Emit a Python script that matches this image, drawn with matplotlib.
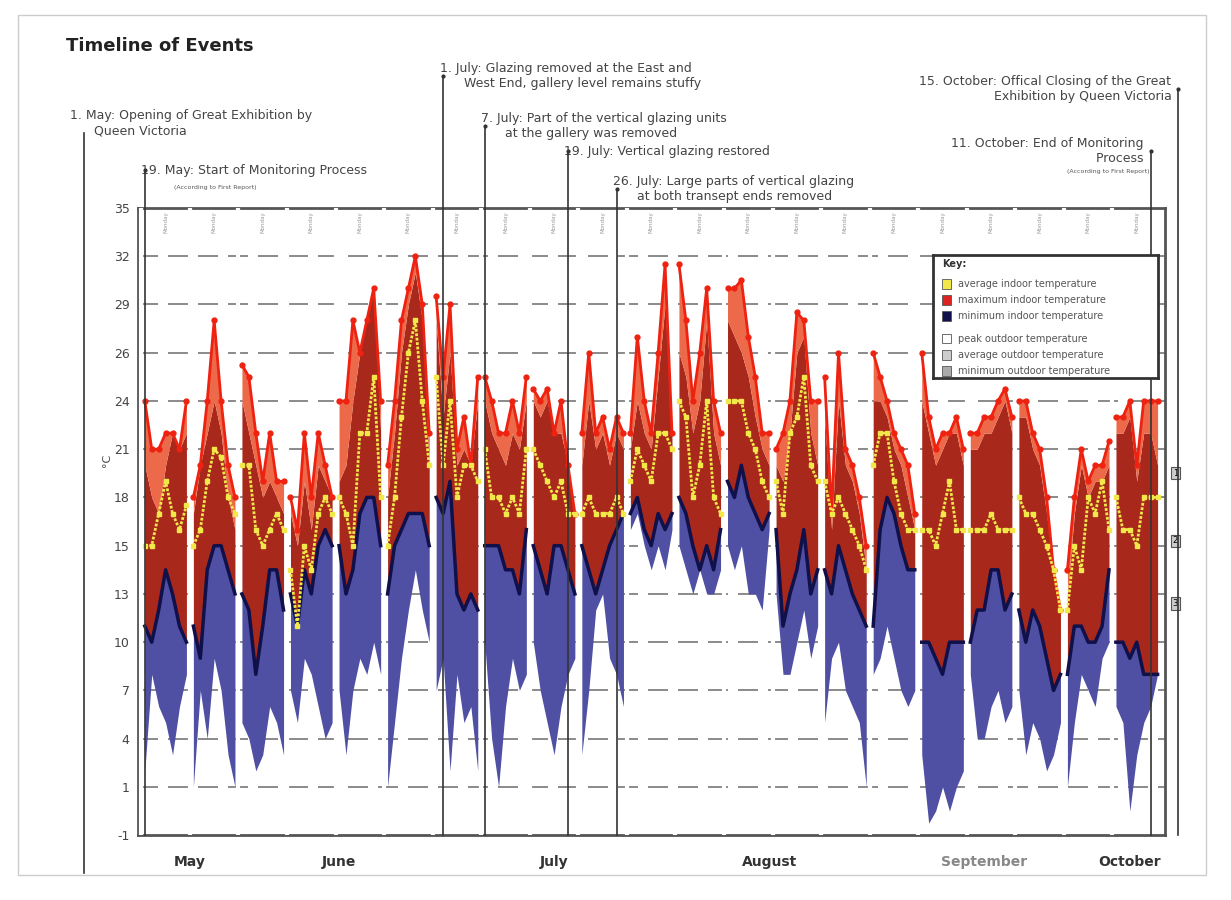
import numpy as np
import matplotlib.pyplot as plt
from matplotlib.patches import Rectangle

# tick labels on the (unevenly labelled) temperature axis
y_labels = [-1, 1, 4, 7, 10, 13, 15, 18, 21, 24, 26, 29, 32, 35]

# one row per week (19 May .. 11 Oct), 7 readings per week
max_in = [
    [24, 21, 21, 22, 22, 21, 24], [18, 20, 24, 28, 24, 20, 18], [25.5, 25, 22, 19, 22, 19, 19],
    [18, 16, 22, 18, 22, 20, 18], [24, 24, 28, 26, 28, 30, 24], [20, 24, 28, 30, 32, 29, 22],
    [29.5, 25, 29, 21, 23, 20, 25], [25, 24, 22, 22, 24, 22, 25], [24.5, 24, 24.5, 22, 24, 20, 17],
    [22, 26, 22, 23, 21, 23, 22], [22, 27, 24, 22, 26, 31.5, 22], [31.5, 28, 24, 26, 30, 24, 22],
    [30, 30, 30.5, 27, 25, 22, 22], [21, 22, 24, 28.5, 28, 24, 24], [25, 17, 26, 21, 20, 18, 15],
    [26, 25, 24, 22, 21, 20, 17], [26, 23, 21, 22, 22, 23, 21], [22, 22, 23, 23, 24, 24.5, 23],
    [24, 24, 22, 21, 18, 14, 12], [14, 18, 21, 19, 20, 20, 21.5], [23, 23, 24, 20, 24, 24, 24],
]
avg_in = [
    [15, 15, 17, 19, 17, 16, 17.5], [15, 16, 19, 21, 20.5, 18, 17], [20, 20, 16, 15, 16, 17, 16],
    [14, 11, 15, 14, 17, 18, 17], [18, 17, 15, 22, 22, 25, 18], [15, 18, 23, 26, 28, 24, 20],
    [25, 20, 24, 18, 20, 20, 19], [21, 18, 18, 17, 18, 17, 21], [21, 20, 19, 18, 19, 17, 17],
    [17, 18, 17, 17, 17, 18, 17], [19, 21, 20, 19, 22, 22, 21], [24, 23, 18, 20, 24, 18, 17],
    [24, 24, 24, 22, 21, 19, 18], [19, 17, 22, 23, 25, 20, 19], [19, 17, 18, 17, 16, 15, 14],
    [20, 22, 22, 19, 17, 16, 16], [16, 16, 15, 17, 19, 16, 16], [16, 16, 16, 17, 16, 16, 16],
    [18, 17, 17, 16, 15, 14, 12], [12, 15, 14, 18, 17, 19, 16], [18, 16, 16, 15, 18, 18, 18],
]
min_in = [
    [11, 10, 12, 14, 13, 11, 10], [11, 9, 14, 15, 15, 14, 13], [13, 12, 8, 11, 14, 14, 12],
    [13, 11, 14, 13, 15, 16, 15], [15, 13, 14, 17, 18, 18, 15], [13, 15, 16, 17, 17, 17, 15],
    [18, 17, 19, 13, 12, 13, 12], [15, 15, 15, 14, 14, 13, 16], [15, 14, 13, 15, 15, 14, 13],
    [15, 14, 13, 14, 15, 16, 17], [17, 18, 16, 15, 17, 16, 17], [18, 17, 15, 14, 15, 14, 16],
    [19, 18, 20, 18, 17, 16, 17], [16, 11, 13, 14, 16, 13, 14], [14, 13, 15, 14, 13, 12, 11],
    [11, 16, 18, 17, 15, 14, 14], [10, 10, 9, 8, 10, 10, 10], [10, 12, 12, 14, 14, 12, 13],
    [12, 10, 12, 11, 9, 7, 8], [8, 11, 11, 10, 10, 11, 14], [10, 10, 9, 10, 8, 8, 8],
]
peak_out = [
    [20, 18, 17, 20, 22, 21, 22], [17, 20, 22, 24, 22, 18, 16], [24, 22, 20, 18, 19, 18, 17],
    [17, 15, 19, 16, 20, 19, 18], [19, 20, 24, 26, 28, 30, 22], [18, 22, 26, 29, 31, 28, 20],
    [28, 23, 26, 20, 21, 20, 24], [24, 22, 21, 20, 22, 21, 24], [24, 23, 24, 22, 22, 20, 17],
    [20, 24, 21, 22, 20, 22, 21], [21, 24, 22, 21, 25, 29, 22], [26, 25, 22, 24, 28, 22, 20],
    [28, 27, 26, 25, 23, 21, 20], [20, 19, 22, 26, 27, 22, 20], [23, 16, 24, 20, 19, 17, 14],
    [24, 24, 23, 21, 20, 18, 16], [24, 22, 20, 21, 22, 22, 20], [21, 21, 22, 22, 23, 24, 22],
    [23, 23, 21, 20, 17, 14, 12], [13, 17, 20, 18, 19, 19, 20], [22, 22, 23, 19, 22, 22, 20],
]
min_out = [
    [2, 8, 6, 5, 3, 6, 8], [1, 7, 4, 9, 7, 3, 1], [5, 4, 2, 3, 6, 5, 3],
    [7, 5, 9, 8, 6, 4, 5], [7, 3, 7, 9, 8, 10, 8], [1, 5, 9, 12, 14, 12, 10],
    [7, 9, 2, 8, 5, 6, 2], [10, 4, 1, 6, 9, 7, 8], [10, 7, 5, 3, 6, 8, 9],
    [3, 7, 12, 13, 9, 8, 6], [16, 17, 15, 14, 15, 14, 16], [15, 14, 13, 14, 13, 13, 14],
    [15, 14, 15, 13, 13, 12, 16], [13, 8, 8, 10, 12, 9, 11], [5, 9, 10, 7, 6, 5, 1],
    [8, 9, 11, 9, 7, 6, 7], [3, -0.5, 0, 1, 0, 1, 2], [8, 4, 4, 6, 7, 5, 6],
    [7, 3, 5, 4, 2, 3, 5], [1, 5, 8, 7, 6, 9, 10], [6, 5, 0, 3, 5, 6, 8],
]

months = ["May", "June", "July", "August", "September", "October"]
month_days = [6.5, 28, 59, 90, 121, 142]

# events: (day offset from 19 May, text, text height in axes fraction)
events = [
    (0, "19. May: Start of Monitoring Process", 1.06),
    (43, "1. July: Glazing removed at the East and\n      West End, gallery level remains stuffy", 1.21),
    (49, "7. July: Part of the vertical glazing units\n      at the gallery was removed", 1.13),
    (61, "19. July: Vertical glazing restored", 1.09),
    (68, "26. July: Large parts of vertical glazing\n      at both transept ends removed", 1.03),
    (145, "11. October: End of Monitoring\n        Process", 1.09),
    (149, "15. October: Offical Closing of the Great\n        Exhibition by Queen Victoria", 1.19),
]


def ypos(v):
    return np.interp(v, y_labels, np.arange(len(y_labels)))


fig = plt.figure(figsize=(12.31, 9), dpi=100)
ax = fig.add_axes([0.112, 0.072, 0.834, 0.697])
fig.add_artist(Rectangle((0.015, 0.028), 0.965, 0.955, transform=fig.transFigure,
                         fill=False, ec="#cccccc", lw=1))

for i in range(len(max_in)):
    d = np.arange(7) + i * 7
    mx, av, mn = ypos(max_in[i]), ypos(avg_in[i]), ypos(min_in[i])
    pk, mo = ypos(peak_out[i]), ypos(min_out[i])
    ax.fill_between(d, mo, mn, color="#4f4fa3", lw=0, zorder=2)
    ax.fill_between(d, mn, np.maximum(pk, mn), color="#a8281c", lw=0, zorder=2)
    ax.fill_between(d, np.minimum(pk, mx), mx, color="#ec6a4a", lw=0, zorder=2)
    ax.fill_between(d, mx, np.maximum(pk, mx), color="#a8281c", lw=0, zorder=2)
    ax.plot(d, mx, color="#ee2211", lw=2, marker="o", ms=3.5, zorder=4)
    ax.plot(d, mn, color="#10104a", lw=2.5, zorder=4)
    ax.plot(d, av, color="#f2e84a", lw=2, ls=(0, (1, 0.6)), marker="s", ms=3.5, zorder=5)
    ax.axvline(i * 7 - 0.5, color="white", lw=3, zorder=3)
    ax.axvline(i * 7 - 0.5, color="#999999", lw=0.8, zorder=1)
    ax.text(i * 7 + 3, 12.7, "Monday", rotation=90, fontsize=4, color="#999999",
            ha="center", va="center")

for k in range(1, len(y_labels)):
    ax.axhline(k, color="#777777", lw=1.2, ls=(0, (12, 6)), zorder=1)

ax.set_xlim(-1, 147)
ax.set_ylim(0, len(y_labels) - 1)
ax.set_yticks(np.arange(len(y_labels)))
ax.set_yticklabels(["-1" if v == -1 else str(v) for v in y_labels], fontsize=9, color="#444444")
ax.set_xticks(month_days)
ax.set_xticklabels(months, fontsize=10, fontweight="bold", color="#333333")
ax.get_xticklabels()[4].set_color("#888888")
ax.tick_params(length=0, pad=14)
ax.tick_params(axis="y", pad=6)
for s in ax.spines.values():
    s.set_color("#555555")
    s.set_linewidth(2)
ax.text(-0.035, 0.59, "°C", transform=ax.transAxes, fontsize=8, rotation=90, color="#444444")

# event lines and labels
xt = ax.get_xaxis_transform()
for day, txt, h in events:
    ax.plot([day, day], [0, h], color="#333333", lw=1.2, clip_on=False, zorder=6, transform=xt)
    ax.plot(day, h, "o", ms=2, color="#333333", clip_on=False, transform=xt)
    if day >= 145:
        ax.text(day - 1, h, txt, fontsize=9, color="#444444", ha="right", va="center", transform=xt)
    else:
        ax.text(day - 0.5, h, txt, fontsize=9, color="#444444", ha="left", va="center", transform=xt)
ax.text(-0.066, 1.135, "1. May: Opening of Great Exhibition by\n      Queen Victoria", fontsize=9,
        color="#444444", va="center", transform=ax.transAxes)
ax.plot([-0.052, -0.052], [-0.06, 1.12], color="#333333", lw=1.2, clip_on=False,
        transform=ax.transAxes)
ax.text(-0.07, 1.25, "Timeline of Events", fontsize=13, fontweight="bold", color="#222222",
        transform=ax.transAxes)
ax.text(0.035, 1.03, "(According to First Report)", fontsize=4.5, color="#555555", transform=ax.transAxes)
ax.text(0.985, 1.055, "(According to First Report)", fontsize=4.5, color="#555555",
        ha="right", transform=ax.transAxes)

# key
lax = fig.add_axes([0.758, 0.58, 0.183, 0.137])
lax.set_xticks([]); lax.set_yticks([])
for s in lax.spines.values():
    s.set_linewidth(2); s.set_color("#333333")
lax.text(0.04, 0.9, "Key:", fontsize=7, fontweight="bold", color="#333333")
key = [("average indoor temperature", "#f2e84a"), ("maximum indoor temperature", "#dd2222"),
       ("minimum indoor temperature", "#10104a"), ("peak outdoor temperature", "white"),
       ("average outdoor temperature", "#cccccc"), ("minimum outdoor temperature", "#aaaaaa")]
for j, (lab, c) in enumerate(key):
    yy = 0.76 - j * 0.13 - (0.05 if j >= 3 else 0)
    lax.add_patch(Rectangle((0.04, yy - 0.04), 0.04, 0.08, fc=c, ec="#555555", lw=0.6))
    lax.text(0.11, yy, lab, fontsize=7, color="#555555", va="center")

# outdoor markers at the right edge
for v, t in [(19.5, "1"), (15.3, "2"), (12.4, "3")]:
    ax.text(1.008, ypos(v), t, fontsize=6, transform=ax.get_yaxis_transform(), va="center",
            bbox=dict(boxstyle="square,pad=0.2", fc="#cccccc", ec="#555555", lw=0.8))

fig.savefig("out.png", dpi=100, facecolor="white")
